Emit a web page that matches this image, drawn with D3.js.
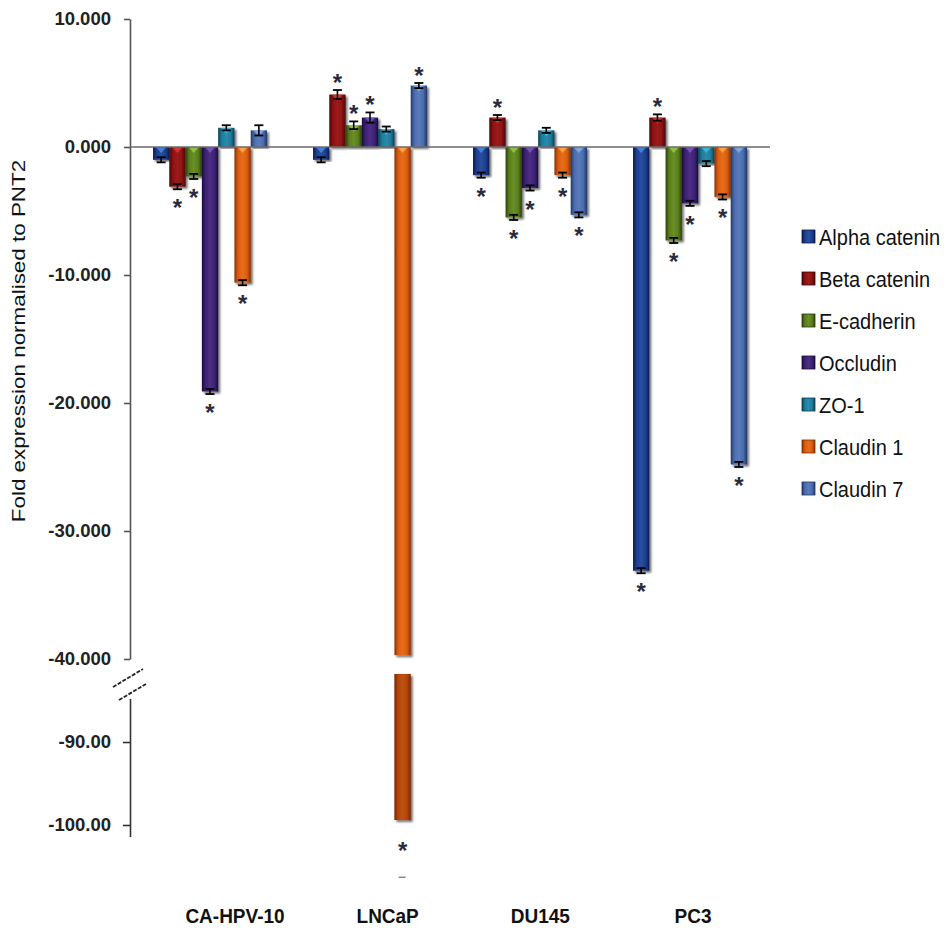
<!DOCTYPE html>
<html>
<head>
<meta charset="utf-8">
<script src="https://cdn.jsdelivr.net/npm/d3@7"></script>
<style>
  html, body { margin: 0; padding: 0; background: #fff; }
  svg { display: block; }
  text { font-family: "Liberation Sans", Arial, sans-serif; }
</style>
</head>
<body>
<div id="chart"></div>
<script>
// ---------------- DATA ----------------
const categories = ["CA-HPV-10", "LNCaP", "DU145", "PC3"];
const seriesNames = ["Alpha catenin", "Beta catenin", "E-cadherin", "Occludin", "ZO-1", "Claudin 1", "Claudin 7"];

// fold expression values per series (one value per category)
const alphaCatenin = [-1.0, -1.0, -2.2, -33.1];
const betaCatenin  = [-3.1, 4.1, 2.3, 2.3];
const eCadherin    = [-2.3, 1.7, -5.5, -7.3];
const occludin     = [-19.1, 2.3, -3.2, -4.4];
const zo1          = [1.5, 1.4, 1.3, -1.3];
const claudin1     = [-10.6, -99.4, -2.2, -3.9];
const claudin7     = [1.3, 4.8, -5.3, -24.8];

// error (± SE) per series
const alphaErr = [0.2, 0.2, 0.2, 0.2];
const betaErr  = [0.2, 0.35, 0.2, 0.25];
const eCadErr  = [0.2, 0.3, 0.2, 0.2];
const occlErr  = [0.2, 0.4, 0.2, 0.2];
const zo1Err   = [0.2, 0.2, 0.2, 0.2];
const cl1Err   = [0.2, 6.9, 0.2, 0.2];
const cl7Err   = [0.4, 0.2, 0.2, 0.2];

// significance markers (*)
const alphaSig = [0, 0, 1, 1];
const betaSig  = [1, 1, 1, 1];
const eCadSig  = [1, 1, 1, 1];
const occlSig  = [1, 1, 1, 1];
const zo1Sig   = [0, 0, 0, 0];
const cl1Sig   = [1, 1, 1, 1];
const cl7Sig   = [0, 1, 1, 1];

// axis ticks
const upperTicks = [10, 0, -10, -20, -30, -40];
const lowerTicks = [-90, -100];

const yLabel = "Fold expression normalised to PNT2";

// ---------------- BUILD ----------------
const valueSets = [alphaCatenin, betaCatenin, eCadherin, occludin, zo1, claudin1, claudin7];
const errSets = [alphaErr, betaErr, eCadErr, occlErr, zo1Err, cl1Err, cl7Err];
const sigSets = [alphaSig, betaSig, eCadSig, occlSig, zo1Sig, cl1Sig, cl7Sig];

const palette = [
  {main: "#1d3e8e", dark: "#0b1c4e", light: "#4a86d8"},
  {main: "#8c1111", dark: "#450505", light: "#d23a3a"},
  {main: "#5a7d1d", dark: "#2c400a", light: "#94c646"},
  {main: "#3c2274", dark: "#1c0d3e", light: "#7656b6"},
  {main: "#1f7c9d", dark: "#0b3e52", light: "#46b6d8"},
  {main: "#dd5c0c", dark: "#853004", light: "#ffa448"},
  {main: "#4a6cae", dark: "#213668", light: "#86ace4"}
];

const W = 944, H = 944;
const svg = d3.select("#chart").append("svg").attr("width", W).attr("height", H);
const defs = svg.append("defs");

palette.forEach((c, i) => {
  const g = defs.append("linearGradient").attr("id", "grad" + i)
    .attr("x1", "0%").attr("x2", "100%").attr("y1", "0%").attr("y2", "0%");
  g.append("stop").attr("offset", "0%").attr("stop-color", c.dark);
  g.append("stop").attr("offset", "22%").attr("stop-color", c.main);
  g.append("stop").attr("offset", "50%").attr("stop-color", d3.interpolateRgb(c.main, c.light)(0.25));
  g.append("stop").attr("offset", "78%").attr("stop-color", c.main);
  g.append("stop").attr("offset", "100%").attr("stop-color", c.dark);
});
const f = defs.append("filter").attr("id", "shadow").attr("x", "-30%").attr("y", "-10%").attr("width", "160%").attr("height", "120%");
f.append("feDropShadow").attr("dx", 2).attr("dy", 2).attr("stdDeviation", 1.2)
  .attr("flood-color", "#000").attr("flood-opacity", 0.55);

const fmtLocale = d3.formatLocale({decimal: ".", thousands: ",", grouping: [3], currency: ["", ""], minus: "-"});
const fmt3 = fmtLocale.format(".3f");
const fmt2 = fmtLocale.format(".2f");

const x0 = d3.scaleBand().domain(categories).range([130, 770]).paddingInner(0.2875).paddingOuter(0.14375);
const x1 = d3.scaleBand().domain(seriesNames).range([0, x0.bandwidth()]);
const xLabel = d3.scalePoint().domain(categories).range([235, 693]);
const yUp = d3.scaleLinear().domain([-40, 10]).range([659, 19]);
const yLow = d3.scaleLinear().domain([-100, -90]).range([825, 742]);
const breakUpper = -39.7, breakLower = -81.8;

// ---- upper axis ----
const axUp = svg.append("g").attr("transform", "translate(130,0)")
  .call(d3.axisLeft(yUp).tickValues(upperTicks).tickFormat(fmt3).tickSize(6).tickSizeOuter(0).tickPadding(13));
axUp.select(".domain").attr("stroke", "#555").attr("stroke-width", 1.6);
axUp.selectAll(".tick line").attr("stroke", "#555").attr("stroke-width", 1.6);
axUp.selectAll(".tick text").attr("fill", "#222").style("font-size", "18.5px").style("font-weight", "bold");

// ---- lower axis ----
const axLow = svg.append("g").attr("transform", "translate(130,0)")
  .call(d3.axisLeft(yLow).tickValues(lowerTicks).tickFormat(fmt2).tickSize(7).tickSizeOuter(0).tickPadding(12));
axLow.select(".domain").attr("d", "M0.5," + 699 + "V" + 837).attr("stroke", "#333").attr("stroke-width", 1.6);
axLow.selectAll(".tick line").attr("stroke", "#333").attr("stroke-width", 1.6);
axLow.selectAll(".tick text").attr("fill", "#222").style("font-size", "18.5px").style("font-weight", "bold");

// break marks
[[113, 687, 143, 669], [119, 700, 146, 684]].forEach(p => {
  svg.append("line").attr("x1", p[0]).attr("y1", p[1]).attr("x2", p[2]).attr("y2", p[3])
    .attr("stroke", "#222").attr("stroke-width", 1.8).attr("stroke-dasharray", "4,1.5");
});

// ---- bars ----
const rows = [];
categories.forEach((cat, ci) => {
  seriesNames.forEach((s, si) => {
    rows.push({cat, ci, s, si, v: valueSets[si][ci], e: errSets[si][ci], sig: sigSets[si][ci]});
  });
});

const barG = svg.append("g");
rows.forEach(d => {
  const x = x0(d.cat) + x1(d.s);
  const w = x1.bandwidth();
  const c = palette[d.si];
  const broken = d.v < breakUpper;
  const yEndUp = broken ? yUp(breakUpper) : yUp(d.v);
  const top = Math.min(yUp(0), yEndUp), bot = Math.max(yUp(0), yEndUp);
  const g = barG.append("g");
  g.append("rect").attr("x", x).attr("y", top).attr("width", w).attr("height", bot - top)
    .attr("fill", "url(#grad" + d.si + ")").attr("filter", "url(#shadow)");
  g.append("path")
    .attr("d", `M${x + w * 0.18},${top}L${x + w * 0.82},${top}L${x + w * 0.5},${top + 6}Z`)
    .attr("fill", c.light).attr("opacity", 0.9);
  let yEnd = yEndUp, errPx;
  if (broken) {
    const t2 = yLow(breakLower), b2 = yLow(d.v);
    g.append("rect").attr("x", x).attr("y", t2).attr("width", w).attr("height", b2 - t2)
      .attr("fill", "url(#grad" + d.si + ")").attr("filter", "url(#shadow)");
    g.append("rect").attr("x", x).attr("y", t2).attr("width", w).attr("height", b2 - t2)
      .attr("fill", "#5a1000").attr("opacity", 0.3);
    // lower error cap only
    const yc = yLow(d.v - d.e);
    g.append("line").attr("x1", x + w / 2 - 4).attr("x2", x + w / 2 + 3).attr("y1", yc).attr("y2", yc)
      .attr("stroke", "#888").attr("stroke-width", 1.5);
    yEnd = b2; errPx = 12;
  } else {
    const ya = yUp(d.v + d.e), yb = yUp(d.v - d.e);
    const cx = x + w / 2;
    g.append("line").attr("x1", cx).attr("x2", cx).attr("y1", ya).attr("y2", yb).attr("stroke", "#000").attr("stroke-width", 1.6);
    [ya, yb].forEach(yy => g.append("line").attr("x1", cx - 4.5).attr("x2", cx + 4.5).attr("y1", yy).attr("y2", yy)
      .attr("stroke", "#000").attr("stroke-width", 1.8));
    errPx = Math.abs(yb - ya) / 2;
  }
  if (d.sig) {
    const cy = d.v >= 0 ? yEnd - errPx - 13 : yEnd + errPx + 13;
    g.append("text").attr("x", x + w / 2).attr("y", cy + 14).attr("text-anchor", "middle")
      .attr("fill", "#2a2a3a").style("font-size", "24px").style("font-weight", "bold").text("*");
  }
});

// zero line
svg.append("line").attr("x1", 130).attr("x2", 770).attr("y1", yUp(0)).attr("y2", yUp(0))
  .attr("stroke", "#6a6a6a").attr("stroke-width", 1.6);

// category labels
svg.append("g").selectAll("text").data(categories).join("text")
  .attr("transform", d => `translate(${xLabel(d)},923) scale(1,1.08)`).attr("text-anchor", "middle")
  .attr("fill", "#111").style("font-size", "19px").style("font-weight", "bold").text(d => d);

// y label
svg.append("text").attr("transform", "translate(25,341) rotate(-90) scale(1.18,1)")
  .attr("text-anchor", "middle").attr("fill", "#111").style("font-size", "19px").text(yLabel);

// legend
const leg = svg.append("g");
seriesNames.forEach((s, i) => {
  const cy = 237 + i * 42;
  leg.append("rect").attr("x", 802).attr("y", cy - 7).attr("width", 13).attr("height", 13)
    .attr("fill", "url(#grad" + i + ")").attr("stroke", palette[i].dark).attr("stroke-width", 0.8);
  leg.append("text").attr("transform", `translate(819,${cy + 8}) scale(1,1.12)`)
    .attr("fill", "#111").style("font-size", "20px").text(s);
});
</script>
</body>
</html>
